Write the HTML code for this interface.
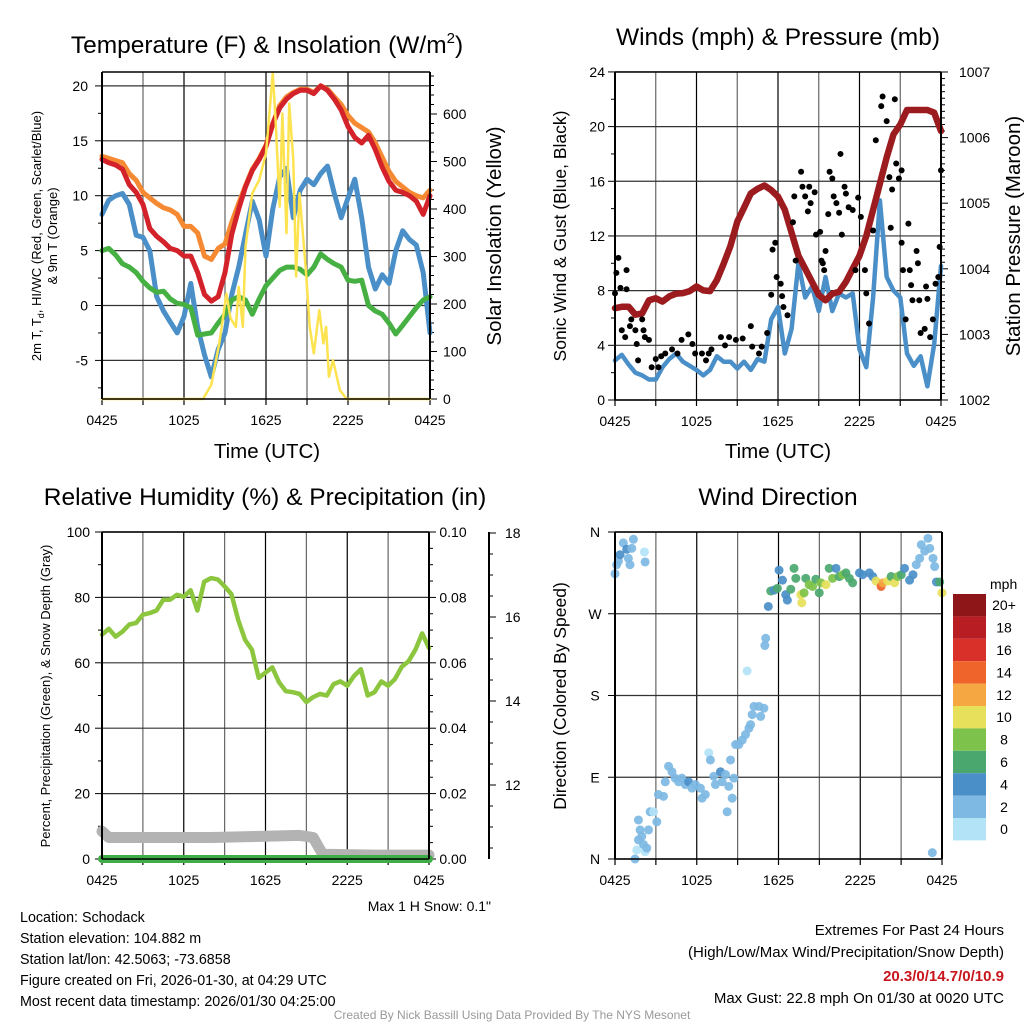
<!DOCTYPE html>
<html><head><meta charset="utf-8"><style>
html,body{margin:0;padding:0;background:#fff;}
svg{display:block;font-family:"Liberation Sans",Arial,sans-serif;}
</style></head><body>
<svg id="s" width="1024" height="1024" viewBox="0 0 1024 1024" xmlns="http://www.w3.org/2000/svg">
<g id="marks"></g>
<g font-size="24.5" text-anchor="middle" fill="#000">
<text x="267" y="53">Temperature (F) &amp; Insolation (W/m<tspan font-size="15" dy="-10">2</tspan><tspan dy="10">)</tspan></text>
<text x="778" y="45">Winds (mph) &amp; Pressure (mb)</text>
<text x="265" y="505">Relative Humidity (%) &amp; Precipitation (in)</text>
<text x="778" y="505">Wind Direction</text>
</g>
<g font-size="20.5" text-anchor="middle">
<text x="267" y="458">Time (UTC)</text>
<text x="778" y="458">Time (UTC)</text>
<text transform="translate(501,236) rotate(-90)">Solar Insolation (Yellow)</text>
<text transform="translate(1020,236) rotate(-90)">Station Pressure (Maroon)</text>
</g>
<g font-size="17.5" text-anchor="middle">
<text transform="translate(566,236) rotate(-90)">Sonic Wind &amp; Gust (Blue, Black)</text>
<text transform="translate(566,696) rotate(-90)">Direction (Colored By Speed)</text>
</g>
<g font-size="13" text-anchor="middle">
<text transform="translate(41,236) rotate(-90)">2m T, T<tspan font-size="9" dy="3">d</tspan><tspan dy="-3">, HI/WC (Red, Green, Scarlet/Blue)</tspan></text>
<text transform="translate(57,236) rotate(-90)">&amp; 9m T (Orange)</text>
<text transform="translate(50,696) rotate(-90)">Percent, Precipitation (Green), &amp; Snow Depth (Gray)</text>
</g>
<text x="491" y="911" font-size="14" text-anchor="end">Max 1 H Snow: 0.1"</text>
<g font-size="14.3">
<text x="20" y="922">Location: Schodack</text>
<text x="20" y="943">Station elevation: 104.882 m</text>
<text x="20" y="964">Station lat/lon: 42.5063; -73.6858</text>
<text x="20" y="985">Figure created on Fri, 2026-01-30, at 04:29 UTC</text>
<text x="20" y="1006">Most recent data timestamp: 2026/01/30 04:25:00</text>
</g>
<g font-size="15" text-anchor="end">
<text x="1004" y="935">Extremes For Past 24 Hours</text>
<text x="1004" y="957">(High/Low/Max Wind/Precipitation/Snow Depth)</text>
<text x="1004" y="981" fill="#c8161d" font-weight="bold">20.3/0/14.7/0/10.9</text>
<text x="1004" y="1003">Max Gust: 22.8 mph On 01/30 at 0020 UTC</text>
</g>
<text x="512" y="1019" font-size="12" fill="#999" text-anchor="middle">Created By Nick Bassill Using Data Provided By The NYS Mesonet</text>
</svg>
<script>
// ---------- data ----------
const xTickLabels = ["0425","1025","1625","2225","0425"];
const tempRed = [13.3,13.0,12.8,12.4,11.0,10.3,9.2,7.0,6.3,5.8,5.2,5.0,4.5,4.5,3.0,1.0,0.4,0.8,3.0,6.5,8.8,10.8,12.3,13.3,14.5,16.5,18.0,18.8,19.3,19.6,19.6,19.3,20.0,19.6,18.8,17.8,16.3,15.3,14.8,15.5,14.2,12.6,11.3,10.5,10.3,10.0,9.5,8.3,10.0];
const tempOrange = [13.6,13.4,13.2,13.0,12.0,11.4,10.3,9.8,9.3,8.9,8.7,8.3,7.2,7.2,6.6,4.5,4.2,5.2,5.6,7.6,9.3,10.9,12.4,13.4,14.6,16.6,18.2,19.0,19.4,19.7,19.7,19.4,20.0,19.7,19.0,18.3,17.3,16.6,16.2,15.8,14.8,13.5,12.2,11.3,10.8,10.3,10.0,9.8,10.5];
const tempBlue = [8.3,9.6,10.0,10.2,9.2,6.4,6.2,5.0,0.8,-0.5,-1.5,-2.5,-1.0,2.0,-2.0,-4.5,-6.5,-4.0,-2.5,1.0,3.5,6.5,9.5,7.8,4.5,8.8,11.7,12.5,8.0,10.5,11.5,11.0,12.0,12.7,10.2,8.0,9.8,11.5,8.0,3.5,1.5,2.8,2.0,5.0,6.8,6.0,5.5,3.0,-2.5];
const tempGreen = [5.0,5.2,4.6,3.8,3.5,3.0,2.2,1.6,1.2,1.3,0.6,0.2,0.1,-0.2,-2.7,-2.6,-2.5,-1.6,-0.8,0.5,0.8,0.5,-0.8,0.6,1.8,2.5,3.2,3.5,3.5,3.3,2.8,3.5,4.7,4.2,3.8,3.5,2.3,2.2,2.3,0.0,-0.5,-0.8,-1.6,-2.6,-1.8,-1.0,-0.2,0.5,0.8];
const solarTimes = [0,7.4,8.0,8.6,9.1,9.4,9.8,10.0,10.3,10.5,11.0,11.5,12.0,12.5,12.7,13.0,13.2,13.5,13.7,14.0,14.2,14.45,14.9,15.2,15.5,15.9,16.2,16.4,16.6,16.9,17.4,17.9,24];
const solarValues = [0,0,30,120,222,170,152,236,152,320,433,461,517,686,587,405,601,349,622,503,258,433,279,152,96,187,117,152,47,82,19,0,0];
const windSpeed = [2.9,3.3,2.6,2.0,1.8,1.5,1.5,2.4,3.0,3.4,2.8,2.5,2.2,1.8,2.2,3.2,2.8,2.8,2.3,2.8,2.2,3.0,2.8,5.9,6.8,3.4,5.2,10.0,7.5,8.3,6.5,9.0,6.5,7.8,7.5,7.8,3.7,2.4,7.5,14.6,9.0,8.0,7.5,3.4,2.5,3.2,1.0,4.1,9.8];
const pressure = [1003.40,1003.42,1003.42,1003.30,1003.32,1003.52,1003.55,1003.50,1003.58,1003.62,1003.63,1003.66,1003.73,1003.67,1003.66,1003.83,1004.08,1004.35,1004.72,1004.93,1005.15,1005.22,1005.27,1005.2,1005.1,1004.9,1004.55,1004.2,1004.0,1003.8,1003.6,1003.52,1003.62,1003.65,1003.80,1004.0,1004.2,1004.5,1004.9,1005.3,1005.7,1006.05,1006.2,1006.42,1006.42,1006.42,1006.42,1006.38,1006.1];
const gustTimes = [0,0.1,0.25,0.4,0.5,0.75,0.85,0.85,1.1,1.2,1.5,1.6,1.7,2.0,2.1,2.2,2.5,2.7,3.0,3.2,3.4,3.7,4.2,4.6,4.9,5.4,5.7,5.9,6.4,6.7,6.9,7.1,7.8,8.1,8.4,8.9,9.4,10,10.1,10.6,10.8,11.2,11.5,11.6,11.8,11.9,12.2,12.3,12.4,12.7,13.1,13.2,13.3,13.7,13.8,14.0,14.2,14.3,14.4,14.7,14.8,15.1,15.2,15.3,15.4,15.5,15.7,15.8,16.0,16.1,16.3,16.5,16.6,16.7,16.9,17.0,17.2,17.5,17.7,17.9,18.1,18.4,18.5,18.7,19.0,19.2,19.6,19.7,20.0,20.2,20.3,20.4,20.6,20.7,20.9,21.1,21.1,21.2,21.4,21.6,21.7,21.8,21.9,22.2,22.3,22.4,22.5,22.8,22.9,23.0,23.2,23.4,23.6,23.8,23.9,24];
const gustValues = [7.8,9.3,10.4,8.2,5.1,4.6,9.5,8.1,5.4,5.9,5.1,4.1,2.9,5.9,5.1,4.6,4.4,2.4,3.0,2.4,3.2,3.4,3.7,3.4,4.4,4.8,4.1,3.4,3.4,2.9,3.4,3.7,4.6,4.0,4.6,4.4,4.5,5.4,3.9,3.4,3.9,4.9,7.7,11.0,11.5,9.0,8.5,7.6,6.8,6.2,13.0,14.9,10.2,16.7,15.6,14.9,13.8,15.6,14.4,15.2,12.1,12.3,10.2,10.0,9.5,10.9,13.6,16.7,16.2,14.9,14.4,13.7,18.0,12.1,15.6,15.1,14.1,13.9,9.5,14.8,13.4,9.5,7.8,5.6,12.4,19.0,21.5,22.2,20.4,16.3,12.6,15.4,22.0,17.3,16.2,16.8,11.5,9.5,5.9,12.9,9.5,8.4,7.3,10.9,10.0,7.3,4.9,5.2,8.3,7.4,4.6,5.9,8.5,9.0,11.2,16.8];
const rhValues = [68.6,70.4,68.0,69.5,71.7,72.2,74.7,75.2,76.0,79.3,79.3,80.8,80.2,82.2,76.0,84.8,85.9,85.5,83.4,81.0,73.0,67.0,64.0,55.4,57.0,58.6,54.0,51.3,51.0,50.5,48.0,49.5,50.5,50.0,53.5,54.3,53.0,56.0,58.0,50.0,51.0,54.3,53.0,55.0,58.8,60.5,64.0,69.0,64.5];
const snowTimes = [0,0.5,4,8,12,14.5,15.5,16.2,20,24];
const snowDepth = [10.9,10.75,10.75,10.75,10.78,10.8,10.75,10.35,10.33,10.33];
const precipTimes = [0,24];
const precipValues = [0,0];
const dirTimes = [0,0.12,0.25,0.37,0.61,0.86,0.98,1.1,1.23,1.35,2.16,2.21,1.47,1.6,1.72,1.84,1.97,2.09,2.21,2.33,1.72,2.46,2.58,2.83,3.07,3.19,3.56,3.69,3.93,4.18,4.42,4.67,4.91,5.16,5.4,5.65,5.9,6.27,6.39,6.63,6.88,7.0,7.25,7.37,7.74,7.86,8.11,8.35,8.23,8.48,8.6,8.72,8.85,9.09,9.34,9.58,9.83,9.95,10.07,10.2,10.57,10.93,10.69,9.7,11.0,11.06,11.25,11.43,11.67,11.92,12.04,12.29,12.53,12.65,12.9,13.14,13.27,13.64,13.71,13.88,14.0,14.25,14.5,14.74,14.99,15.11,15.48,15.72,15.97,16.22,16.46,16.71,16.95,17.2,17.44,17.94,18.18,18.67,18.92,19.16,19.53,19.66,20.02,20.27,20.52,20.76,21.01,21.25,21.62,21.87,22.11,22.36,22.48,22.73,22.97,23.1,23.34,23.46,23.59,23.83,24.0,23.29];
const dirValues = [314,324,328,335,348,341,331,324,342,352,338,327,0,10,21,32,25,16,8,12,43,32,52,52,41,71,69,85,102,96,89,85,89,82,85,78,82,78,67,71,117,109,91,82,96,85,93,80,52,109,67,89,126,126,131,137,144,148,159,168,168,166,157,207,235,243,278,295,296,298,318,307,291,285,297,320,309,291,282,293,309,302,300,308,293,304,302,320,309,320,311,313,315,309,304,315,313,315,311,306,300,304,306,311,304,311,313,320,307,313,324,331,346,339,353,342,331,322,305,305,293,7];
const dirSpeeds = [3,3,3,4,3,4,3,3,3,3,1,3,3,1,3,3,3,3,1,3,3,3,3,1,3,3,3,3,3,3,3,3,3,3,5,3,3,3,3,3,1,3,3,3,5,3,3,3,3,3,3,3,3,3,3,3,3,3,3,3,3,3,3,1,3,3,5,7,5,7,5,5,5,5,7,7,7,11,11,9,7,9,9,7,7,9,11,7,9,5,7,9,7,7,7,5,5,5,5,11,15,13,11,7,11,9,7,5,5,5,3,3,3,3,3,3,3,3,5,7,11,3];
const colorbarLabels = ["20+","18","16","14","12","10","8","6","4","2","0"];
const colorbarColors = ["#8e1518","#b81d24","#d9302a","#ef642a","#f5a742","#e6e05a","#7dc24a","#4aa86e","#4a8fc8","#7db9e3","#b3e3f7"];

// ---------- helpers ----------
const NS="http://www.w3.org/2000/svg";
const root=document.getElementById('marks');
function mk(tag,attrs,name,parent){
  const el=document.createElementNS(NS,tag);
  for(const k in attrs) el.setAttribute(k,attrs[k]);
  
  
  (parent||root).appendChild(el);
  return el;
}
function txt(x,y,s,size,anchor,name){
  const t=mk('text',{x:x,y:y,'font-size':size,'text-anchor':anchor},name);
  t.textContent=s;return t;
}
function poly(pts,stroke,w,name,extra){
  const a=Object.assign({points:pts.map(p=>p[0].toFixed(1)+','+p[1].toFixed(1)).join(' '),fill:'none',stroke:stroke,'stroke-width':w,'stroke-linejoin':'round','stroke-linecap':'round'},extra||{});
  return mk('polyline',a,name);
}
function panelFrame(P,key){
  for(let h=0;h<=24;h+=3){
    const x=P.x(h);
    mk('line',{x1:x,y1:P.y0,x2:x,y2:P.y1,stroke:h%6===0?'#000':'#666','stroke-width':1.2},key+'-grid-v');
    mk('line',{x1:x,y1:P.y1,x2:x,y2:P.y1+6,stroke:'#000','stroke-width':1.2},key+'-x-tick');
  }
  xTickLabels.forEach((s,i)=>{txt(P.x(i*6),P.y1+26,s,14,'middle',key+'-x-tick-label');});
}
function frameBox(P,key){
  mk('line',{x1:P.x0,y1:P.y0,x2:P.x0,y2:P.y1,stroke:'#000','stroke-width':2},key+'-left-axis');
  mk('line',{x1:P.x1,y1:P.y0,x2:P.x1,y2:P.y1,stroke:'#000','stroke-width':2},key+'-right-axis');
  mk('line',{x1:P.x0,y1:P.y1,x2:P.x1,y2:P.y1,stroke:'#000','stroke-width':1.5},key+'-bottom-axis');
  mk('line',{x1:P.x0,y1:P.y0,x2:P.x1,y2:P.y0,stroke:'#000','stroke-width':1.5},key+'-top-axis');
}
function hgrid(P,y,key){mk('line',{x1:P.x0,y1:y,x2:P.x1,y2:y,stroke:'#333','stroke-width':1.2},key+'-grid-h');}
function tick(x,y,len,key){mk('line',{x1:x,y1:y,x2:x+len,y2:y,stroke:'#000','stroke-width':1},key);}

// ---------- panel 1: temperature ----------
const P1={x0:102,x1:430,y0:72,y1:399};
P1.x=h=>P1.x0+(P1.x1-P1.x0)*h/24;
const tY=v=>305.5-10.98*v, sY=v=>399-0.475*v;
panelFrame(P1,'temp');
[-5,0,5,10,15,20].forEach(v=>{hgrid(P1,tY(v),'temp');tick(P1.x0,tY(v),-7,'temp-y-tick');txt(P1.x0-14,tY(v)+5,String(v),14,'end','temp-y-tick-label');});
for(let v=-7.5;v<=20;v+=5) tick(P1.x0,tY(v),-4,'temp-y-minor-tick');
for(let v=0;v<=680;v+=20) tick(P1.x1,sY(v),v%100===0?7:4,'solar-y-tick');
for(let v=0;v<=600;v+=100) txt(P1.x1+13,sY(v)+5,String(v),14,'start','solar-y-tick-label');
const idxPts=(arr,P,fy)=>arr.map((v,i)=>[P.x(i*0.5),fy(v)]);
poly(idxPts(tempOrange,P1,tY),'#f58a32',5,'temp-9m-line');
poly(idxPts(tempBlue,P1,tY),'#4a8fc8',5,'windchill-line');
poly(idxPts(tempGreen,P1,tY),'#46b043',5,'dewpoint-line');
poly(idxPts(tempRed,P1,tY),'#d3222a',5,'temp-2m-line');
poly(solarTimes.map((h,i)=>[P1.x(h),sY(solarValues[i])]),'#fde350',2.5,'solar-line');
frameBox(P1,'temp');

// ---------- panel 2: wind ----------
const P2={x0:615,x1:941,y0:72,y1:400};
P2.x=h=>P2.x0+(P2.x1-P2.x0)*h/24;
const wY=v=>400-13.67*v, pY=p=>400-65.6*(p-1002);
panelFrame(P2,'wind');
[0,4,8,12,16,20,24].forEach(v=>{hgrid(P2,wY(v),'wind');tick(P2.x0,wY(v),-7,'wind-y-tick');txt(P2.x0-10,wY(v)+5,String(v),14,'end','wind-y-tick-label');});
for(let v=2;v<24;v+=4) tick(P2.x0,wY(v),-4,'wind-y-minor-tick');
for(let p=1002;p<=1007.001;p+=0.1){const maj=Math.abs(p-Math.round(p))<0.01;tick(P2.x1,pY(p),maj?7:4,'pressure-y-tick');}
for(let p=1002;p<=1007;p++) txt(P2.x1+18,pY(p)+5,String(p),14,'start','pressure-y-tick-label');
poly(idxPts(windSpeed,P2,wY),'#4a8fc8',4.5,'wind-speed-line');
poly(idxPts(pressure,P2,pY),'#9b1b1e',6.5,'pressure-line');
gustTimes.forEach((h,i)=>{mk('circle',{cx:P2.x(h),cy:wY(gustValues[i]),r:3,fill:'#000'},'gust-point');});
frameBox(P2,'wind');

// ---------- panel 3: RH ----------
const P3={x0:102,x1:429,y0:532,y1:859};
P3.x=h=>P3.x0+(P3.x1-P3.x0)*h/24;
const rY=v=>859-3.27*v, prY=v=>859-3270*v, snY=v=>533+(18-v)*42;
panelFrame(P3,'rh');
[0,20,40,60,80,100].forEach(v=>{hgrid(P3,rY(v),'rh');tick(P3.x0,rY(v),-7,'rh-y-tick');txt(P3.x0-12,rY(v)+5,String(v),14,'end','rh-y-tick-label');});
for(let v=10;v<100;v+=10) if(v%20) tick(P3.x0,rY(v),-4,'rh-y-minor-tick');
for(let i=0;i<=20;i++){tick(P3.x1,prY(i*0.005),i%4===0?7:4,'precip-y-tick');}
for(let i=0;i<=5;i++) txt(P3.x1+24,prY(i*0.02)+5,(i*0.02).toFixed(2),14,'middle','precip-y-tick-label');
mk('line',{x1:489,y1:P3.y0,x2:489,y2:P3.y1,stroke:'#000','stroke-width':2},'snow-axis');
for(let v=18;v>=10.25;v-=0.5){tick(489,snY(v),Math.abs(v-Math.round(v))<0.01&&Math.round(v)%2===0?7:4,'snow-y-tick');}
[12,14,16,18].forEach(v=>txt(505,snY(v)+5,String(v),14,'start','snow-y-tick-label'));
poly(snowTimes.map((h,i)=>[P3.x(h),snY(snowDepth[i])]),'#b3b3b3',11,'snow-depth-line');
poly(precipTimes.map((h,i)=>[P3.x(h),prY(precipValues[i])]),'#3fae49',8,'precip-line');
poly(idxPts(rhValues,P3,rY),'#8cc63f',4.5,'rh-line');
frameBox(P3,'rh');

// ---------- panel 4: direction ----------
const P4={x0:615,x1:942,y0:532,y1:859};
P4.x=h=>P4.x0+(P4.x1-P4.x0)*h/24;
const dY=d=>859-d*327/360;
panelFrame(P4,'dir');
[["N",0],["E",90],["S",180],["W",270],["N",360]].forEach(([s,d])=>{hgrid(P4,dY(d),'dir');tick(P4.x0,dY(d),-7,'dir-y-tick');txt(P4.x0-20,dY(d)+5,s,14,'middle','dir-y-tick-label');});
dirTimes.forEach((h,i)=>{
  const bin=Math.min(10,Math.floor(dirSpeeds[i]/2));
  mk('circle',{cx:P4.x(h),cy:dY(dirValues[i]),r:4.5,fill:colorbarColors[10-bin],'fill-opacity':0.92},'direction-point');
});
frameBox(P4,'dir');
txt(990,589,'mph',14,'start','colorbar-title');
const cbTop=594, cbH=22.4;
colorbarColors.forEach((c,i)=>{
  mk('rect',{x:953,y:cbTop+i*cbH,width:33,height:cbH,fill:c},'colorbar-box');
  txt(1004,cbTop+i*cbH+cbH/2+5,colorbarLabels[i],14,'middle','colorbar-label');
});
</script>
</body></html>
